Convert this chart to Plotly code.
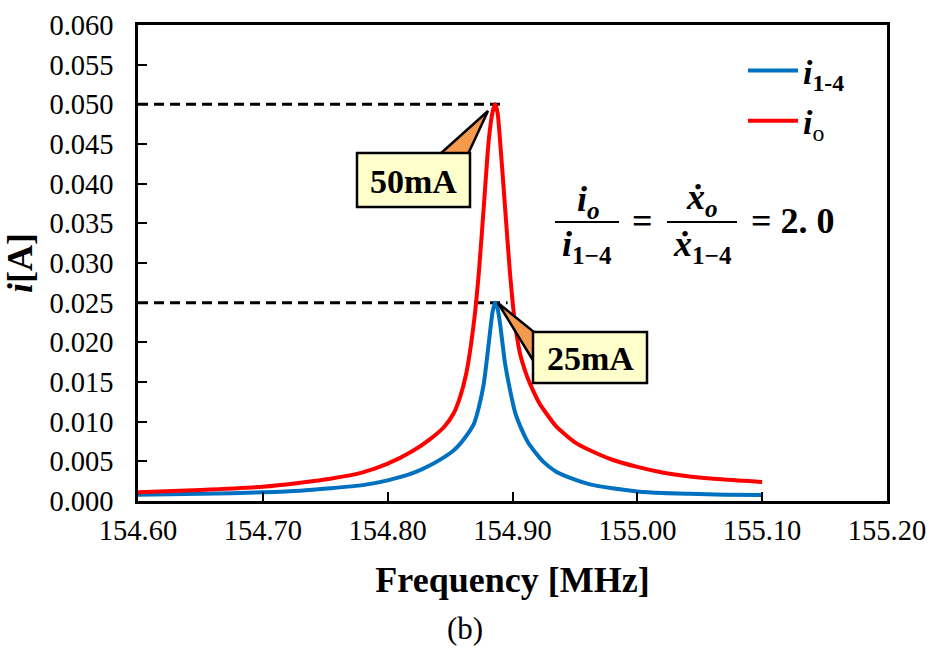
import plotly.graph_objects as go

# ---- data ----
freq_mhz = [154.60, 154.65, 154.70, 154.73, 154.754, 154.78, 154.80, 154.82, 154.834,
            154.845, 154.853, 154.858, 154.863, 154.869, 154.873, 154.877, 154.881,
            154.884, 154.886, 154.888, 154.890, 154.894, 154.898, 154.902, 154.906,
            154.911, 154.914, 154.922, 154.925, 154.935, 154.95, 154.962, 154.98,
            155.00, 155.02, 155.042, 155.07, 155.10]
i_o = [0.0011, 0.0014, 0.0018, 0.0023, 0.0028, 0.0036, 0.0047, 0.0063, 0.0078,
       0.0093, 0.0111, 0.0131, 0.0161, 0.0224, 0.0287, 0.0371, 0.0455,
       0.0490, 0.0500, 0.0490, 0.0455, 0.0371, 0.0287, 0.0224, 0.0186,
       0.0160, 0.0148, 0.0122, 0.0115, 0.0094, 0.0074, 0.0064, 0.0052,
       0.0043, 0.0036, 0.0031, 0.0027, 0.0024]
i_14 = [0.0008, 0.0009, 0.0011, 0.0013, 0.0016, 0.0020, 0.0026, 0.0035, 0.0045,
        0.0055, 0.0064, 0.0072, 0.0082, 0.0097, 0.0118, 0.0148, 0.0199,
        0.0238, 0.0250, 0.0243, 0.0224, 0.0174, 0.0140, 0.0112, 0.0095,
        0.0078, 0.0070, 0.0054, 0.0049, 0.0037, 0.0027, 0.0021, 0.0016,
        0.0012, 0.0010, 0.0009, 0.0008, 0.00076]
x_ticks = [154.60, 154.70, 154.80, 154.90, 155.00, 155.10, 155.20]
y_ticks = [0.000, 0.005, 0.010, 0.015, 0.020, 0.025, 0.030, 0.035, 0.040,
           0.045, 0.050, 0.055, 0.060]
peak_labels = ["50mA", "25mA"]

SERIF = "Liberation Serif, Times New Roman, serif"
x_min, x_max = x_ticks[0], x_ticks[-1]
y_min, y_max = y_ticks[0], y_ticks[-1]

fig = go.Figure()

# dashed guide lines at the peaks
pk_o = max(i_o)
pk_14 = max(i_14)
f_pk = freq_mhz[i_o.index(pk_o)]
fig.add_trace(go.Scatter(x=[x_min, f_pk + 0.008], y=[pk_o, pk_o], mode="lines",
                         line=dict(color="black", width=3, dash="10px,6px"),
                         showlegend=False, hoverinfo="skip"))
fig.add_trace(go.Scatter(x=[x_min, f_pk + 0.010], y=[pk_14, pk_14], mode="lines",
                         line=dict(color="black", width=3, dash="10px,6px"),
                         showlegend=False, hoverinfo="skip"))

fig.add_trace(go.Scatter(x=freq_mhz, y=i_14, mode="lines",
                         name="<b><i>i</i><sub>1-4</sub></b>", legendgroup="a",
                         line=dict(color="#0070C0", width=4, shape="spline", smoothing=0.6)))
fig.add_trace(go.Scatter(x=freq_mhz, y=i_o, mode="lines",
                         name="<b><i>i</i></b><sub>o</sub>", legendgroup="b",
                         line=dict(color="#FF0000", width=4, shape="spline", smoothing=0.6)))

# page-pixel -> data helpers for callout placement (plot area 138..887 x 25..501)
PL, PR, PT, PB = 138, 887, 25, 501


def fx(px):
    return x_min + (px - PL) / (PR - PL) * (x_max - x_min)


def fy(py):
    return y_min + (PB - py) / (PB - PT) * (y_max - y_min)


shapes = []
orange = "#F59A4C"
box_fill = "#FFFFCC"
# 50mA callout
shapes.append(dict(type="path", xref="x", yref="y",
                   path=f"M {fx(488)} {fy(111)} L {fx(440)} {fy(154)} L {fx(468)} {fy(154)} Z",
                   fillcolor=orange, line=dict(color="black", width=2.5), layer="above"))
shapes.append(dict(type="rect", xref="x", yref="y", x0=fx(357), x1=fx(470), y0=fy(207), y1=fy(153),
                   fillcolor=box_fill, line=dict(color="black", width=2.5), layer="above"))
# 25mA callout
shapes.append(dict(type="path", xref="x", yref="y",
                   path=f"M {fx(498)} {fy(303)} L {fx(534)} {fy(332)} L {fx(534)} {fy(362)} Z",
                   fillcolor=orange, line=dict(color="black", width=2.5), layer="above"))
shapes.append(dict(type="rect", xref="x", yref="y", x0=fx(533), x1=fx(647), y0=fy(383), y1=fy(332),
                   fillcolor=box_fill, line=dict(color="black", width=2.5), layer="above"))
# fraction bars of the equation
shapes.append(dict(type="line", xref="x", yref="y", x0=fx(555), x1=fx(619), y0=fy(222), y1=fy(222),
                   line=dict(color="black", width=2), layer="above"))
shapes.append(dict(type="line", xref="x", yref="y", x0=fx(667), x1=fx(737), y0=fy(222), y1=fy(222),
                   line=dict(color="black", width=2), layer="above"))

annotations = []
annotations.append(dict(x=fx(413.5), y=fy(181), xref="x", yref="y", showarrow=False,
                        text=f"<b>{peak_labels[0]}</b>", font=dict(family=SERIF, size=34, color="black")))
annotations.append(dict(x=fx(590), y=fy(358), xref="x", yref="y", showarrow=False,
                        text=f"<b>{peak_labels[1]}</b>", font=dict(family=SERIF, size=34, color="black")))

EQF = dict(family=SERIF, size=36, color="black")
annotations += [
    dict(x=fx(588), y=fy(201), xref="x", yref="y", showarrow=False,
         text="<b><i>i<sub>o</sub></i></b>", font=EQF),
    dict(x=fx(587), y=fy(246), xref="x", yref="y", showarrow=False,
         text="<b><i>i</i><sub>1−4</sub></b>", font=EQF),
    dict(x=fx(642), y=fy(221), xref="x", yref="y", showarrow=False,
         text="<b>=</b>", font=EQF),
    dict(x=fx(702), y=fy(199), xref="x", yref="y", showarrow=False,
         text="<b><i>ẋ<sub>o</sub></i></b>", font=EQF),
    dict(x=fx(702), y=fy(246), xref="x", yref="y", showarrow=False,
         text="<b><i>ẋ</i><sub>1−4</sub></b>", font=EQF),
    dict(x=fx(793), y=fy(221), xref="x", yref="y", showarrow=False,
         text="<b>= 2. 0</b>", font=EQF),
]
# caption
annotations.append(dict(x=(465 - PL) / (PR - PL), y=-(628 - PB) / (PB - PT), xref="paper", yref="paper",
                        xanchor="center", yanchor="middle", showarrow=False,
                        text="(b)", font=dict(family=SERIF, size=31, color="black")))

fig.update_layout(
    width=930, height=650,
    margin=dict(l=PL, r=930 - PR, t=PT, b=650 - PB),
    paper_bgcolor="white", plot_bgcolor="white",
    font=dict(family=SERIF, color="black"),
    shapes=shapes, annotations=annotations,
    legend=dict(x=(743 - PL) / (PR - PL), y=1 - (42 - PT) / (PB - PT), xanchor="left", yanchor="top",
                font=dict(family=SERIF, size=34, color="black"),
                bgcolor="rgba(0,0,0,0)", tracegroupgap=3, itemwidth=50),
)
fig.update_xaxes(range=[x_min, x_max], tickvals=x_ticks, ticktext=[f"{v:.2f}" for v in x_ticks],
                 automargin=False, ticklabelstandoff=2,
                 showgrid=False, zeroline=False, showline=True, linecolor="black", linewidth=2.5,
                 mirror=True, ticks="inside", ticklen=9, tickwidth=1.5, tickcolor="black",
                 tickfont=dict(family=SERIF, size=28.5, color="black"),
                 title=dict(text="<b>Frequency [MHz]</b>", font=dict(family=SERIF, size=36, color="black"),
                            standoff=22))
fig.update_yaxes(range=[y_min, y_max], tickvals=y_ticks, ticktext=[f"{v:.3f}" for v in y_ticks],
                 automargin=False, ticklabelstandoff=16,
                 showgrid=False, zeroline=False, showline=True, linecolor="black", linewidth=2.5,
                 mirror=True, ticks="inside", ticklen=9, tickwidth=1.5, tickcolor="black",
                 tickfont=dict(family=SERIF, size=28.5, color="black"),
                 title=dict(text="<b><i>i</i>[A]</b>", font=dict(family=SERIF, size=36, color="black"),
                            standoff=10))

# remove the default 8px page margin so the 930x650 figure fills the window exactly
fig.write_html("out.html", config={"displayModeBar": False},
               post_script="document.body.style.margin='0';document.body.style.overflow='hidden';")
